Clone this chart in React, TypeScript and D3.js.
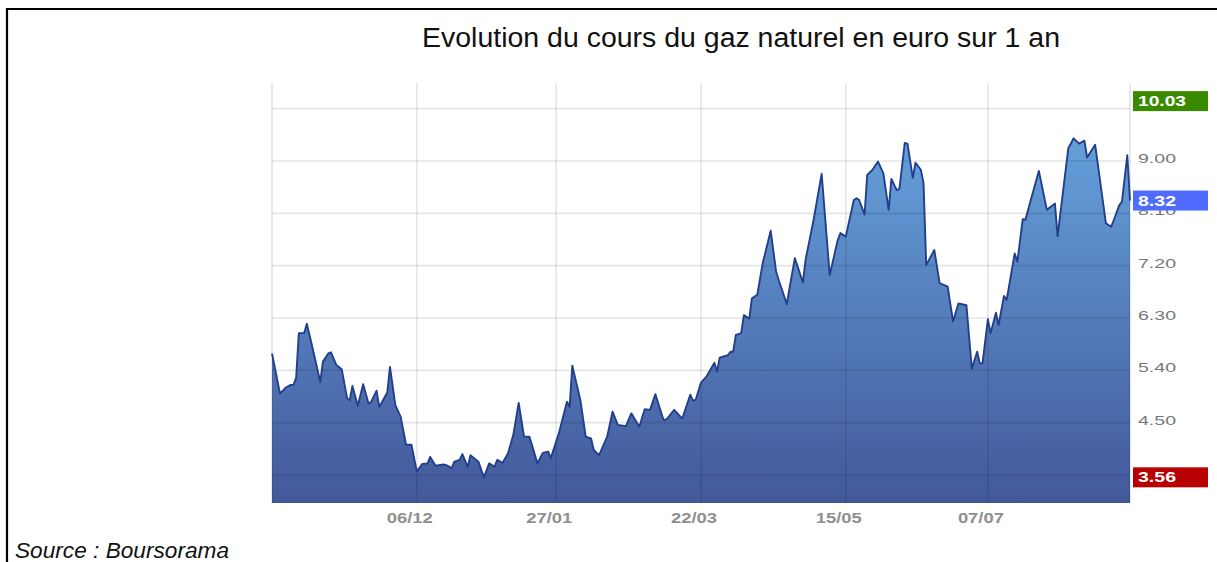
import React from "react";
import * as d3 from "d3";

const title = "Evolution du cours du gaz naturel en euro sur 1 an";
const source = "Source : Boursorama";

const dates = [
  "2021-10-13","2021-10-16","2021-10-18","2021-10-20","2021-10-21","2021-10-22","2021-10-23","2021-10-25","2021-10-26","2021-10-28","2021-10-31",
  "2021-11-01","2021-11-03","2021-11-04","2021-11-06","2021-11-08","2021-11-10","2021-11-11","2021-11-12","2021-11-14","2021-11-16","2021-11-18","2021-11-19","2021-11-21","2021-11-22","2021-11-25","2021-11-26","2021-11-28","2021-11-30",
  "2021-12-02","2021-12-04","2021-12-06","2021-12-08","2021-12-10","2021-12-11","2021-12-13","2021-12-16","2021-12-17","2021-12-19","2021-12-20","2021-12-22","2021-12-23","2021-12-25","2021-12-26","2021-12-29","2021-12-31",
  "2022-01-02","2022-01-04","2022-01-05","2022-01-07","2022-01-09","2022-01-11","2022-01-13","2022-01-15","2022-01-17","2022-01-20","2022-01-22","2022-01-24","2022-01-25","2022-01-28","2022-01-31",
  "2022-02-01","2022-02-02","2022-02-05","2022-02-07","2022-02-09","2022-02-10","2022-02-12","2022-02-15","2022-02-17","2022-02-19","2022-02-22","2022-02-24","2022-02-27",
  "2022-03-01","2022-03-03","2022-03-05","2022-03-08","2022-03-09","2022-03-12","2022-03-15","2022-03-18","2022-03-19","2022-03-20","2022-03-22","2022-03-24","2022-03-27","2022-03-28","2022-03-29",
  "2022-04-01","2022-04-02","2022-04-03","2022-04-04","2022-04-06","2022-04-07","2022-04-09","2022-04-10","2022-04-12","2022-04-14","2022-04-17","2022-04-19","2022-04-20","2022-04-23","2022-04-24","2022-04-26","2022-04-29","2022-04-30",
  "2022-05-03","2022-05-06","2022-05-09","2022-05-12","2022-05-13","2022-05-15","2022-05-18","2022-05-19","2022-05-20","2022-05-22","2022-05-23","2022-05-25","2022-05-27","2022-05-29","2022-05-31",
  "2022-06-01","2022-06-03","2022-06-04","2022-06-06","2022-06-07","2022-06-09","2022-06-10","2022-06-12","2022-06-13","2022-06-14","2022-06-17","2022-06-19","2022-06-22","2022-06-24","2022-06-26","2022-06-29",
  "2022-07-01","2022-07-03","2022-07-04","2022-07-05","2022-07-07","2022-07-08","2022-07-10","2022-07-11","2022-07-13","2022-07-14","2022-07-17","2022-07-18","2022-07-20","2022-07-21","2022-07-23","2022-07-26","2022-07-29",
  "2022-08-01","2022-08-02","2022-08-06","2022-08-08","2022-08-10","2022-08-12","2022-08-13","2022-08-16","2022-08-20","2022-08-22","2022-08-23","2022-08-25","2022-08-26","2022-08-28","2022-08-29",
];

const prices = [
  5.69,5.00,5.10,5.15,5.15,5.27,6.04,6.04,6.20,5.81,5.20,
  5.55,5.69,5.71,5.49,5.42,4.92,4.89,5.13,4.79,5.16,4.83,4.86,5.05,4.77,5.02,5.46,4.80,4.60,
  4.12,4.12,3.66,3.79,3.80,3.91,3.76,3.78,3.77,3.72,3.83,3.86,3.96,3.74,3.94,3.83,3.56,
  3.80,3.74,3.86,3.81,3.97,4.29,4.84,4.26,4.26,3.80,3.98,4.00,3.89,4.32,4.86,
  4.77,5.48,4.89,4.26,4.23,4.03,3.94,4.26,4.69,4.46,4.44,4.66,4.43,
  4.73,4.72,4.99,4.55,4.55,4.72,4.57,4.98,4.88,4.89,5.19,5.29,5.53,5.38,5.62,
  5.66,5.72,5.72,6.01,6.04,6.35,6.29,6.64,6.70,7.24,7.80,7.10,6.95,6.54,6.81,7.33,6.91,7.30,
  7.99,8.78,7.04,7.64,7.76,7.70,8.33,8.36,8.33,8.08,8.76,8.85,8.99,8.79,8.16,
  8.69,8.50,8.52,9.31,9.30,8.71,8.97,8.85,8.62,7.21,7.47,6.90,6.84,6.24,6.55,6.52,
  5.43,5.72,5.52,5.52,6.28,6.04,6.39,6.18,6.68,6.61,7.41,7.27,8.00,7.99,8.33,8.83,8.16,
  8.27,7.71,9.22,9.39,9.30,9.35,9.06,9.28,7.93,7.87,7.99,8.24,8.30,9.10,8.32,
];

const xTickDates = ["2021-12-06", "2022-01-27", "2022-03-22", "2022-05-15", "2022-07-07"];
const yTicks = [3.6, 4.5, 5.4, 6.3, 7.2, 8.1, 9.0, 9.9];

const markerLabels = ["10.03", "8.32", "3.56"];
const markerValues = [10.03, 8.32, 3.56];
const markerColors = ["#3a8a00", "#4f6cff", "#b80000"];

const W = 1217;
const H = 562;
const left = 272;
const right = 1130;
const top = 83;
const bottom = 503;

export default function App() {
  const parse = d3.utcParse("%Y-%m-%d");
  const fmt = d3.utcFormat("%d/%m");
  const data = dates.map((d, i) => ({ date: parse(d) as Date, v: prices[i] }));

  const x = d3
    .scaleUtc()
    .domain([parse(dates[0]) as Date, parse(dates[dates.length - 1]) as Date])
    .range([left, right]);
  const y = d3.scaleLinear().domain([3.6, 9.0]).range([475, 161]);

  const area = d3
    .area<{ date: Date; v: number }>()
    .x((d) => x(d.date))
    .y0(bottom)
    .y1((d) => y(d.v))
    .curve(d3.curveLinear);
  const line = d3
    .line<{ date: Date; v: number }>()
    .x((d) => x(d.date))
    .y((d) => y(d.v))
    .curve(d3.curveLinear);

  const tickX = xTickDates.map((d) => parse(d) as Date);
  const font = "'Liberation Sans', Arial, Helvetica, sans-serif";

  return (
    <svg
      width={W}
      height={H}
      style={{ position: "absolute", left: 0, top: 0, display: "block", background: "#fff" }}
      fontFamily={font}
    >
      <defs>
        <linearGradient id="fillGrad" gradientUnits="userSpaceOnUse" x1="0" y1={top} x2="0" y2={bottom}>
          <stop offset="0%" stopColor="#69abe3" />
          <stop offset="100%" stopColor="#43589b" />
        </linearGradient>
      </defs>
      <rect x={0} y={0} width={W} height={H} fill="#fff" />
      <path d={`M7,${H + 2} V9 H${W + 2}`} fill="none" stroke="#000" strokeWidth={2.2} />

      <text x={741} y={47} textAnchor="middle" fontSize={27} fill="#111" textLength={638} lengthAdjust="spacingAndGlyphs">
        {title}
      </text>

      <path d={area(data) ?? ""} fill="url(#fillGrad)" />

      {yTicks.map((t) => (
        <line key={"gy" + t} x1={left} x2={right} y1={y(t)} y2={y(t)} stroke="#000" strokeOpacity={0.1} strokeWidth={1.6} />
      ))}
      {tickX.map((d, i) => (
        <line key={"gx" + i} x1={x(d)} x2={x(d)} y1={top} y2={bottom} stroke="#000" strokeOpacity={0.1} strokeWidth={1.6} />
      ))}
      <line x1={left} x2={left} y1={top} y2={bottom} stroke="#000" strokeOpacity={0.1} strokeWidth={1.8} />
      <line x1={right} x2={right} y1={top} y2={bottom} stroke="#000" strokeOpacity={0.1} strokeWidth={1.8} />

      <path d={line(data) ?? ""} fill="none" stroke="#233f8c" strokeWidth={1.9} strokeLinejoin="round" />

      {tickX.map((d, i) => (
        <text key={"tx" + i} x={x(d) - 7} y={523} textAnchor="middle" fontSize={15} fontWeight="bold" fill="#8f8f8f" textLength={46} lengthAdjust="spacingAndGlyphs">
          {fmt(d)}
        </text>
      ))}

      {yTicks.map((t) => (
        <text key={"ty" + t} x={1138} y={y(t) + 2} fontSize={13.5} fill="#777" textLength={38} lengthAdjust="spacingAndGlyphs">
          {d3.format(".2f")(t)}
        </text>
      ))}

      {markerValues.map((v, i) => (
        <g key={"m" + i}>
          <rect x={1133} y={y(v) - 10} width={75} height={20} fill={markerColors[i]} />
          <text x={1138} y={y(v) + 5} fontSize={14} fontWeight="bold" fill="#fff" textLength={markerLabels[i].length > 4 ? 48 : 38} lengthAdjust="spacingAndGlyphs">
            {markerLabels[i]}
          </text>
        </g>
      ))}

      <text x={15} y={558} fontSize={22} fontStyle="italic" fill="#111" textLength={214} lengthAdjust="spacingAndGlyphs">
        {source}
      </text>
    </svg>
  );
}
